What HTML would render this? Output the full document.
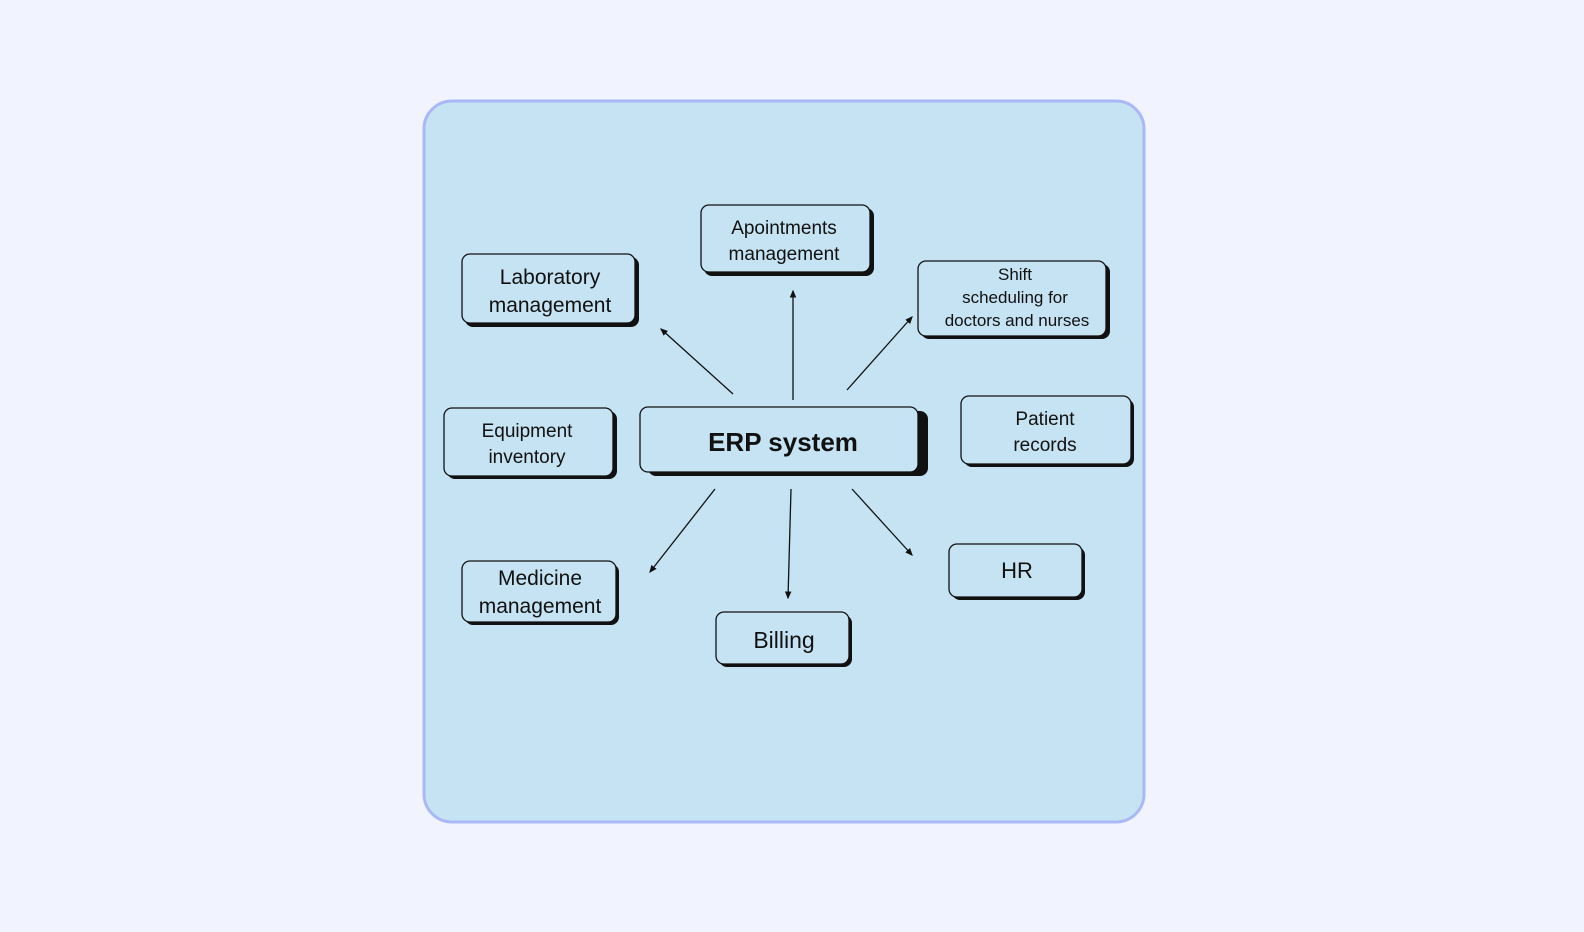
<!DOCTYPE html>
<html><head><style>
html,body{margin:0;padding:0;background:#f1f4fe;}
svg{display:block;}
text{font-family:"Liberation Sans",sans-serif;fill:#111;text-anchor:middle;}
</style></head><body>
<svg width="1584" height="932" viewBox="0 0 1584 932">
<defs><marker id="a" markerWidth="6" markerHeight="6" refX="5" refY="3" orient="auto"><path d="M0,0.5 L6,3 L0,5.5z" fill="#111"/></marker></defs>
<rect x="0" y="0" width="1584" height="932" fill="#f1f4fe"/>
<rect x="424" y="101" width="720" height="721" rx="28" fill="#c5e3f2" stroke="#aab9f6" stroke-width="3"/>
<g fill="#111">
<rect x="704" y="208" width="170" height="68" rx="8"/>
<rect x="465" y="257" width="174" height="70" rx="8"/>
<rect x="921" y="264" width="189" height="75" rx="8"/>
<rect x="447" y="411" width="170" height="68" rx="8"/>
<rect x="648" y="411" width="280" height="65" rx="8"/>
<rect x="964" y="399" width="170" height="68" rx="8"/>
<rect x="465" y="564" width="154" height="61" rx="8"/>
<rect x="719" y="615" width="133" height="52" rx="8"/>
<rect x="952" y="547" width="133" height="53" rx="8"/>
</g>
<g fill="#c5e3f2" stroke="#111" stroke-width="1.3">
<rect x="701" y="205" width="169" height="67" rx="8"/>
<rect x="462" y="254" width="173" height="69" rx="8"/>
<rect x="918" y="261" width="188" height="75" rx="8"/>
<rect x="444" y="408" width="169" height="68" rx="8"/>
<rect x="640" y="407" width="278" height="65" rx="8"/>
<rect x="961" y="396" width="170" height="68" rx="8"/>
<rect x="462" y="561" width="154" height="61" rx="8"/>
<rect x="716" y="612" width="133" height="52" rx="8"/>
<rect x="949" y="544" width="133" height="53" rx="8"/>
</g>
<g stroke="#111" stroke-width="1.3" marker-end="url(#a)">
<line x1="733" y1="394" x2="661" y2="329"/>
<line x1="793" y1="400" x2="793" y2="291"/>
<line x1="847" y1="390" x2="912" y2="317"/>
<line x1="715" y1="489" x2="650" y2="572"/>
<line x1="791" y1="489" x2="788" y2="598"/>
<line x1="852" y1="489" x2="912" y2="555"/>
</g>
<text x="784" y="234" font-size="19">Apointments</text>
<text x="784" y="260" font-size="19">management</text>
<text x="550" y="284" font-size="21">Laboratory</text>
<text x="550" y="312" font-size="21">management</text>
<text x="1015" y="280" font-size="17">Shift</text>
<text x="1015" y="303" font-size="17">scheduling for</text>
<text x="1017" y="326" font-size="17">doctors and nurses</text>
<text x="527" y="437" font-size="19">Equipment</text>
<text x="527" y="463" font-size="19">inventory</text>
<text x="783" y="451" font-size="26" font-weight="bold">ERP system</text>
<text x="1045" y="425" font-size="19">Patient</text>
<text x="1045" y="451" font-size="19">records</text>
<text x="540" y="585" font-size="21">Medicine</text>
<text x="540" y="613" font-size="21">management</text>
<text x="784" y="648" font-size="23">Billing</text>
<text x="1017" y="578" font-size="22">HR</text>
</svg>
</body></html>
